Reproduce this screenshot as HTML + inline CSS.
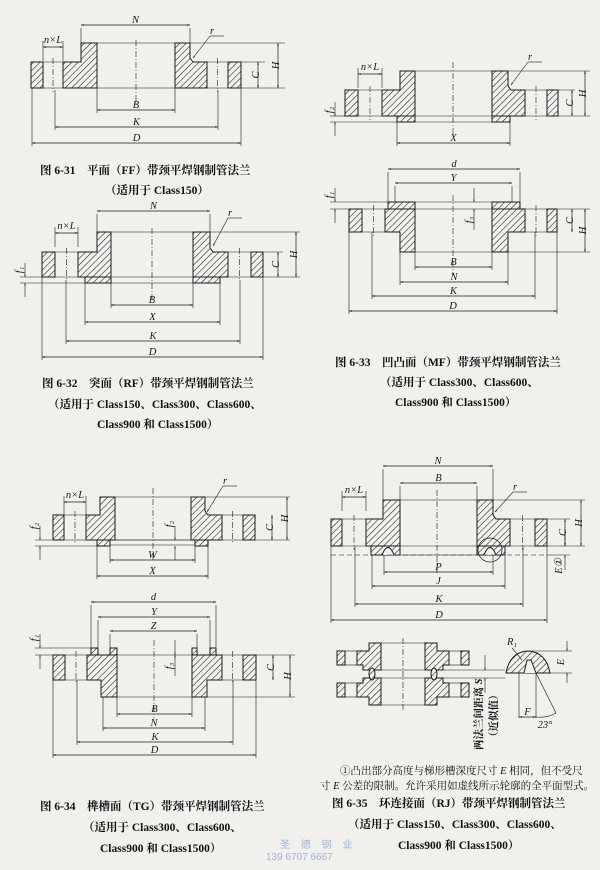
<!DOCTYPE html>
<html><head><meta charset="utf-8">
<style>
html,body{margin:0;padding:0;background:#f2f0ec;}
svg{display:block}
.cap{font-family:"Liberation Serif","Noto Serif CJK SC",serif;font-weight:bold;font-size:11.5px;fill:#111}
.lb{font-family:"Liberation Serif",serif;font-style:italic;font-size:10.5px;fill:#1a1a1a}
.wm{font-family:"Liberation Sans","Noto Sans CJK SC",sans-serif;font-size:10px;fill:#9db4d8}
</style></head>
<body>
<svg id="s" width="600" height="870" viewBox="0 0 600 870" xmlns="http://www.w3.org/2000/svg">
<defs>
<pattern id="h" patternUnits="userSpaceOnUse" width="4.5" height="4.5" patternTransform="rotate(45)">
<rect width="4.5" height="4.5" fill="#f3f1ee"/><line x1="0" y1="0" x2="0" y2="4.5" stroke="#1a1a1a" stroke-width="1.1"/>
</pattern>
<marker id="a" viewBox="0 0 10 10" refX="10" refY="5" markerWidth="6" markerHeight="4" orient="auto-start-reverse"><path d="M0,2L10,5L0,8z" fill="#222"/></marker>
</defs>
<g id="g" stroke="#1a1a1a" stroke-width="1" fill="none"></g>
<text class="cap" x="40" y="174">图 6-31　平面（FF）带颈平焊钢制管法兰</text>
<text class="cap" x="105" y="194">（适用于 Class150）</text>
<text class="cap" x="42" y="387">图 6-32　突面（RF）带颈平焊钢制管法兰</text>
<text class="cap" x="48" y="408">（适用于 Class150、Class300、Class600、</text>
<text class="cap" x="97" y="428">Class900 和 Class1500）</text>
<text class="cap" x="335" y="366">图 6-33　凹凸面（MF）带颈平焊钢制管法兰</text>
<text class="cap" x="380" y="386">（适用于 Class300、Class600、</text>
<text class="cap" x="395" y="406">Class900 和 Class1500）</text>
<text class="cap" x="40" y="810">图 6-34　榫槽面（TG）带颈平焊钢制管法兰</text>
<text class="cap" x="83" y="831">（适用于 Class300、Class600、</text>
<text class="cap" x="100" y="852">Class900 和 Class1500）</text>
<text class="cap" x="340" y="774" style="font-weight:normal;font-size:10.5px">①凸出部分高度与梯形槽深度尺寸 <tspan font-style="italic">E</tspan> 相同，但不受尺</text>
<text class="cap" x="320" y="789" style="font-weight:normal;font-size:10.5px">寸 <tspan font-style="italic">E</tspan> 公差的限制。允许采用如虚线所示轮廓的全平面型式。</text>
<text class="cap" x="332" y="807">图 6-35　环连接面（RJ）带颈平焊钢制管法兰</text>
<text class="cap" x="348" y="828">（适用于 Class150、Class300、Class600、</text>
<text class="cap" x="398" y="849">Class900 和 Class1500）</text>
<text class="wm" x="280" y="848" letter-spacing="4">圣 德 钢 业</text>
<text class="wm" x="266" y="860">139 6707 6667</text>
<text class="cap" transform="translate(482,750) rotate(-90)" style="font-size:10.5px">两法兰间距离 <tspan font-style="italic">S</tspan></text>
<text class="cap" transform="translate(497,742) rotate(-90)" style="font-size:10.5px">（近似值）</text>
</svg>
<script>
const g=document.getElementById('g');const NS='http://www.w3.org/2000/svg';
function el(t,a,txt){const e=document.createElementNS(NS,t);for(const k in a)e.setAttribute(k,a[k]);if(txt!==undefined)e.textContent=txt;(a.parent||g).appendChild(e);return e;}
function poly(p){el('polygon',{points:p.map(q=>q.join(',')).join(' '),fill:'url(#h)'});}
function rect(x1,y1,x2,y2){poly([[x1,y1],[x2,y1],[x2,y2],[x1,y2]]);}
function line(x1,y1,x2,y2,ex){const a={x1,y1,x2,y2};if(ex)Object.assign(a,ex);el('line',a);}
function cl(x,y1,y2){line(x,y1,x,y2,{'stroke-dasharray':'6,2,1,2','stroke-width':0.6});}
function lab(x,y,t,ex){const a={x,y,class:'lb',stroke:'none','text-anchor':'middle'};if(ex)Object.assign(a,ex);el('text',a,t);}
function hd(x1,x2,y,t,ext){line(x1,y,x2,y,{'marker-start':'url(#a)','marker-end':'url(#a)','stroke-width':0.7});if(t)lab((x1+x2)/2,y-2,t);if(ext){line(x1,ext[0],x1,y+3,{'stroke-width':0.6});line(x2,ext[1]!==undefined?ext[1]:ext[0],x2,y+3,{'stroke-width':0.6});}}
function vd(x,y1,y2,t){line(x,y1,x,y2,{'marker-start':'url(#a)','marker-end':'url(#a)','stroke-width':0.7});if(t)lab(x-3,(y1+y2)/2+4,t,{transform:`rotate(-90 ${x-3} ${(y1+y2)/2})`});}
function hl(x1,x2,y){line(x1,y,x2,y,{'stroke-width':0.6});}
function fl(o){const{x0,h1,h2,hubL,bL,bR,hubR,h3,h4,x1,yH,yP,yB}=o;
rect(x0,yP,h1,yB);rect(h4,yP,x1,yB);
poly([[h2,yP],[hubL,yP],[hubL,yH],[bL,yH],[bL,yB],[h2,yB]]);
poly([[h3,yP],[hubR+3,yP],[hubR,yP-4],[hubR,yH],[bR,yH],[bR,yB],[h3,yB]]);
hl(h1,h2,yP);hl(h1,h2,yB);hl(h3,h4,yP);hl(h3,h4,yB);hl(bL,bR,yH);hl(bL,bR,yB);
cl((h1+h2)/2,yP-4,yB+4);cl((h3+h4)/2,yP-4,yB+4);}
function fd(o){const{x0,h1,h2,hubL,bL,bR,hubR,h3,h4,x1,yT,yP,yH}=o;
rect(x0,yT,h1,yP);rect(h4,yT,x1,yP);
poly([[h2,yT],[bL,yT],[bL,yH],[hubL,yH],[hubL,yP],[h2,yP]]);
poly([[h3,yT],[bR,yT],[bR,yH],[hubR,yH],[hubR,yP],[h3,yP]]);
hl(h1,h2,yT);hl(h1,h2,yP);hl(h3,h4,yT);hl(h3,h4,yP);hl(bL,bR,yT);hl(bL,bR,yH);
cl((h1+h2)/2,yT-4,yP+4);cl((h3+h4)/2,yT-4,yP+4);}
function rr(x,y,tx,ty){lab(tx,ty,'r');line(tx-2,ty+2,tx+12,ty+2,{'stroke-width':0.6});line(tx-2,ty+2,x,y,{'marker-end':'url(#a)','stroke-width':0.6});}
function nl(x1,x2,y){hd(x1,x2,y);line(x1,y-6,x1,y+14,{'stroke-width':0.6});line(x2,y-6,x2,y+14,{'stroke-width':0.6});lab((x1+x2)/2,y-4,'n×L');}

fl({x0:31,h1:43,h2:63,hubL:81,bL:97,bR:175,hubR:190,h3:207,h4:228,x1:241,yH:43,yP:62,yB:88});
cl(136,40,105);nl(43,63,47);rr(193,58,212,34);
hd(81,190,25,'N',[43]);hd(97,175,110,'B',[88]);hd(55,218,127,'K',[90]);hd(32,241,143,'D',[88]);
hl(190,285,43);hl(241,285,88);hl(241,265,62);vd(278,43,88,'H');vd(258,62,88,'C');

fl({x0:42,h1:55,h2:78,hubL:97,bL:111,bR:193,hubR:210,h3:228,h4:251,x1:263,yH:232,yP:252,yB:277});
rect(85,277,111,283);rect(193,277,220,283);hl(111,193,283);
cl(152,228,302);nl(55,78,233);rr(213,246,230,216);
hd(97,210,211,'N',[232]);hd(111,193,305,'B',[283]);hd(85,220,322,'X',[283]);hd(66,240,341,'K',[280]);hd(42,263,357,'D',[277]);
hl(210,300,232);hl(263,300,277);hl(263,283,252);vd(296,232,277,'H');vd(278,252,277,'C');
hl(20,42,277);hl(20,85,283);line(25,263,25,277,{'marker-end':'url(#a)','stroke-width':0.6});line(25,297,25,283,{'marker-end':'url(#a)','stroke-width':0.6});lab(20,272,'f₁',{transform:'rotate(-90 20 270)'});

fl({x0:345,h1:358,h2:382,hubL:400,bL:415,bR:492,hubR:508,h3:525,h4:547,x1:558,yH:71,yP:90,yB:116});
rect(397,116,415,122);rect(492,116,510,122);hl(415,492,122);
cl(453,62,135);nl(358,382,74);rr(511,85,530,60);
hd(397,510,143,'X',[122]);
hl(508,590,71);hl(558,590,116);hl(558,575,90);vd(585,71,116,'H');vd(572,90,116,'C');
hl(330,345,116);hl(330,397,122);line(335,102,335,116,{'marker-end':'url(#a)','stroke-width':0.6});line(335,136,335,122,{'marker-end':'url(#a)','stroke-width':0.6});lab(330,112,'f₂',{transform:'rotate(-90 330 110)'});
fd({x0:349,h1:362,h2:385,hubL:400,bL:415,bR:492,hubR:508,h3:525,h4:547,x1:557,yT:209,yP:232,yH:252});
rect(388,202,415,209);rect(492,202,520,209);hl(415,492,202);
cl(453,195,275);
hd(388,520,169,'d',[202]);hd(395,512,183,'Y',[202]);hd(415,492,267,'B',[252]);hd(400,508,282,'N',[252]);hd(372,535,296,'K',[232]);hd(349,557,311,'D',[232]);
hl(557,590,209);hl(508,590,252);vd(585,209,252,'H');vd(572,209,232,'C');
hl(330,388,202);hl(330,349,209);line(335,188,335,202,{'marker-end':'url(#a)','stroke-width':0.6});line(335,223,335,209,{'marker-end':'url(#a)','stroke-width':0.6});lab(330,197,'f₁',{transform:'rotate(-90 330 195)'});
line(474,188,474,202,{'marker-end':'url(#a)','stroke-width':0.6});line(474,230,474,209,{'marker-end':'url(#a)','stroke-width':0.6});lab(470,222,'f₃',{transform:'rotate(-90 470 220)'});

fl({x0:53,h1:64,h2:86,hubL:100,bL:115,bR:191,hubR:205,h3:222,h4:243,x1:255,yH:497,yP:515,yB:540});
rect(97,540,110,546);rect(195,540,208,546);hl(110,195,545);hl(110,195,540);
cl(153,488,560);nl(64,86,502);rr(207,512,225,484);
hd(110,195,560,'W',[546]);hd(97,208,576,'X',[546]);
hl(205,290,497);hl(255,290,540);vd(287,497,540,'H');vd(272,515,540,'C');
hl(35,53,540);hl(35,97,546);line(40,526,40,540,{'marker-end':'url(#a)','stroke-width':0.6});line(40,560,40,546,{'marker-end':'url(#a)','stroke-width':0.6});lab(35,528,'f₂',{transform:'rotate(-90 35 526)'});
line(175,526,175,540,{'marker-end':'url(#a)','stroke-width':0.6});line(175,560,175,546,{'marker-end':'url(#a)','stroke-width':0.6});lab(170,526,'f₂',{transform:'rotate(-90 170 524)'});
fd({x0:53,h1:65,h2:87,hubL:101,bL:117,bR:192,hubR:207,h3:222,h4:243,x1:256,yT:655,yP:680,yH:697});
rect(91,648,98,655);rect(110,648,117,655);rect(192,648,197,655);rect(210,648,216,655);
cl(154,640,718);
hd(91,216,602,'d',[648]);hd(98,210,617,'Y',[648]);hd(110,197,631,'Z',[648]);hd(117,192,714,'B',[697]);hd(103,205,728,'N',[697]);hd(77,233,742,'K',[680]);hd(53,256,755,'D',[680]);
hl(256,295,655);hl(207,295,697);vd(290,655,697,'H');vd(273,655,680,'C');
hl(35,91,648);hl(35,53,655);line(40,634,40,648,{'marker-end':'url(#a)','stroke-width':0.6});line(40,669,40,655,{'marker-end':'url(#a)','stroke-width':0.6});lab(35,640,'f₁',{transform:'rotate(-90 35 638)'});
line(175,640,175,655,{'marker-end':'url(#a)','stroke-width':0.6});line(175,676,175,655,{'marker-end':'url(#a)','stroke-width':0.6});lab(170,668,'f₃',{transform:'rotate(-90 170 666)'});

fl({x0:331,h1:342,h2:366,hubL:383,bL:400,bR:477,hubR:493,h3:510,h4:535,x1:547,yH:500,yP:519,yB:546});
poly([[371,546],[400,546],[400,555],[371,555]]);poly([[477,546],[505,546],[505,555],[477,555]]);hl(400,477,555);
el('path',{d:'M382,555 Q388,540 394,555',fill:'#f3f1ee'});el('path',{d:'M484,555 Q490,540 496,555',fill:'#f3f1ee'});
el('circle',{cx:490,cy:550,r:12,'stroke-width':0.7});
line(331,555,547,555,{'stroke-dasharray':'5,3','stroke-width':0.6});
cl(437,490,575);nl(342,366,497);rr(495,512,515,490);
hd(383,493,466,'N',[500]);hd(400,477,483,'B',[500]);hd(384,493,572,'P',[555]);hd(372,505,586,'J',[555]);hd(355,523,604,'K',[546]);hd(331,547,620,'D',[546]);
hl(493,585,500);hl(547,585,546);hl(547,570,519);hl(547,570,555);vd(581,500,546,'H');vd(565,519,546,'C');
line(565,532,565,546,{'marker-end':'url(#a)','stroke-width':0.6});line(565,570,565,555,{'marker-end':'url(#a)','stroke-width':0.6});lab(560,568,'E①',{transform:'rotate(-90 560 566)'});
// detail pair
rect(337,651,345,665);rect(461,651,469,665);rect(337,683,345,697);rect(461,683,469,697);
poly([[357,651],[369,651],[369,643],[381,643],[381,670],[363,670],[363,665],[357,665]]);
poly([[449,651],[437,651],[437,643],[425,643],[425,670],[443,670],[443,665],[449,665]]);
poly([[357,697],[369,697],[369,705],[381,705],[381,678],[363,678],[363,683],[357,683]]);
poly([[449,697],[437,697],[437,705],[425,705],[425,678],[443,678],[443,683],[449,683]]);
hl(345,357,651);hl(345,357,665);hl(449,461,651);hl(449,461,665);hl(345,357,683);hl(345,357,697);hl(449,461,683);hl(449,461,697);
hl(381,425,643);hl(381,425,705);hl(381,425,670);hl(381,425,678);
el('ellipse',{cx:372,cy:674,rx:3,ry:6,fill:'url(#h)'});el('ellipse',{cx:434,cy:674,rx:3,ry:6,fill:'url(#h)'});
cl(403,638,712);hl(440,505,670);hl(440,505,678);line(485,655,485,670,{'marker-end':'url(#a)','stroke-width':0.6});line(485,693,485,678,{'marker-end':'url(#a)','stroke-width':0.6});
el('path',{d:'M506,673 Q510,652 528,651 Q546,652 550,673 Z',fill:'url(#h)'});
el('path',{d:'M524,673 L527,660 L531,660 L536,673',fill:'#f3f1ee'});
lab(512,645,'R₁');line(512,648,522,660,{'stroke-width':0.6});
hl(530,572,651);hl(550,572,673);line(567,641,567,651,{'marker-end':'url(#a)','stroke-width':0.6});line(567,683,567,673,{'marker-end':'url(#a)','stroke-width':0.6});lab(562,664,'E',{transform:'rotate(-90 562 662)'});
line(519,673,519,718,{'stroke-width':0.6});line(536,673,536,718,{'stroke-width':0.6});line(536,673,556,713,{'stroke-width':0.6});
hd(519,536,717,'F');lab(545,728,'23°');el('path',{d:'M536,717 Q548,718 556,713','stroke-width':0.6});
</script>
</body></html>
